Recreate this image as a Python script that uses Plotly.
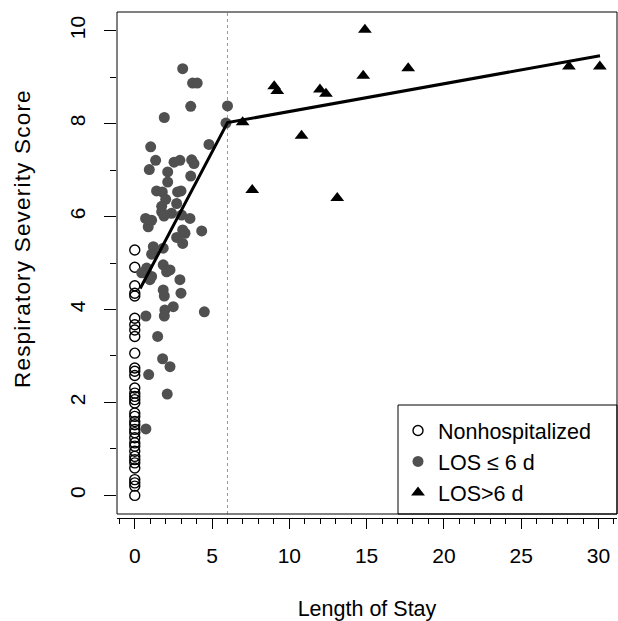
#!/usr/bin/env python3
"""Respiratory severity score vs length of stay (piecewise fit)."""

from __future__ import annotations

import plotly.graph_objects as go


# --- data ------------------------------------------------------------------
NONHOSP_Y = [
    5.28, 4.91, 4.51, 4.35, 4.29, 3.81, 3.67, 3.56, 3.42, 3.06, 2.74, 2.67,
    2.58, 2.31, 2.20, 2.13, 2.06, 1.99, 1.77, 1.70, 1.59, 1.52, 1.42, 1.35,
    1.24, 1.13, 1.06, 0.95, 0.84, 0.77, 0.70, 0.59, 0.34, 0.27, 0.20, 0.00,
]
NONHOSP_X = [0.0] * len(NONHOSP_Y)

LOS_SHORT_X = [
    3.10, 3.74, 4.04, 3.62, 6.00, 1.91, 5.90, 4.80, 1.03, 1.35, 0.94, 2.54,
    2.92, 3.68, 3.83, 2.13, 3.62, 2.13, 1.41, 1.78, 2.77, 2.99, 2.00, 2.71,
    1.74, 1.74, 2.38, 1.89, 3.03, 3.57, 0.70, 1.09, 0.87, 3.10, 3.25, 4.33,
    2.71, 3.10, 1.20, 1.84, 1.20, 1.09, 0.77, 0.45, 1.09, 0.98, 1.84, 2.06,
    2.28, 2.92, 1.84, 1.91, 2.99, 2.49, 1.95, 1.91, 0.72, 4.50, 1.48, 1.80,
    2.28, 0.90, 2.10, 0.72,
]
LOS_SHORT_Y = [
    9.18, 8.87, 8.87, 8.37, 8.38, 8.13, 8.01, 7.55, 7.50, 7.21, 7.01, 7.17,
    7.21, 7.22, 7.14, 6.96, 6.87, 6.74, 6.55, 6.53, 6.53, 6.55, 6.37, 6.28,
    6.22, 6.10, 6.07, 6.01, 6.03, 5.96, 5.96, 5.92, 5.78, 5.71, 5.64, 5.69,
    5.55, 5.42, 5.35, 5.32, 5.21, 5.19, 4.89, 4.79, 4.71, 4.64, 4.96, 4.81,
    4.85, 4.64, 4.42, 4.29, 4.35, 4.06, 3.99, 3.86, 3.86, 3.95, 3.42, 2.94,
    2.77, 2.60, 2.18, 1.43,
]

LOS_LONG_X = [14.89, 17.69, 14.78, 9.02, 9.22, 11.98, 12.37, 28.09, 30.09, 6.98, 10.79, 7.60, 13.10]
LOS_LONG_Y = [10.02, 9.19, 9.03, 8.80, 8.70, 8.73, 8.64, 9.23, 9.23, 8.03, 7.74, 6.57, 6.40]

FIT_X = [0.35, 6.0, 30.1]
FIT_Y = [4.45, 8.02, 9.46]

THRESHOLD_DAYS = 6

X_TICKS = [0, 5, 10, 15, 20, 25, 30]
Y_TICKS = [0, 2, 4, 6, 8, 10]

# --- layout constants --------------------------------------------------------
W, H = 618, 621
ML, MR, MT, MB = 115, 1, 12, 103
PW, PH = W - ML - MR, H - MT - MB
X0 = 2 / PW          # box left (y axis sits on it)
Y0 = 4 / PH          # box bottom (x axis sits 4px below)
FONT = "Liberation Sans, Arial, Helvetica, sans-serif"
GREY = "#505050"


def main() -> int:
    fig = go.Figure()

    fig.add_trace(
        go.Scatter(
            x=NONHOSP_X,
            y=NONHOSP_Y,
            mode="markers",
            name="Nonhospitalized",
            marker=dict(symbol="circle-open", size=10, color="black", line=dict(width=1.4)),
        )
    )
    fig.add_trace(
        go.Scatter(
            x=LOS_SHORT_X,
            y=LOS_SHORT_Y,
            mode="markers",
            name="LOS \u2264 6 d",
            marker=dict(symbol="circle", size=11, color=GREY, line=dict(width=0)),
        )
    )
    fig.add_trace(
        go.Scatter(
            x=LOS_LONG_X,
            y=LOS_LONG_Y,
            mode="markers",
            name="LOS>6 d",
            marker=dict(symbol="triangle-up", size=12, color="black", line=dict(width=0)),
        )
    )
    fig.add_trace(
        go.Scatter(
            x=FIT_X,
            y=FIT_Y,
            mode="lines",
            line=dict(color="black", width=3),
            showlegend=False,
            hoverinfo="skip",
        )
    )

    fig.add_vline(x=THRESHOLD_DAYS, line=dict(color="#999999", width=1, dash="dot"), layer="below")

    # plot box + legend box
    fig.add_shape(type="rect", xref="paper", yref="paper", x0=X0, x1=1, y0=Y0, y1=1,
                  line=dict(color="black", width=1))
    leg_x = (398 - ML) / PW
    fig.add_shape(type="rect", xref="paper", yref="paper", x0=leg_x, x1=1, y0=Y0,
                  y1=(H - MB - 405) / PH, line=dict(color="black", width=1),
                  fillcolor="white", layer="below")

    # y title: placed by hand, a bit spaced out like the original device font
    fig.add_annotation(
        text='<span style="letter-spacing:1.2px">Respiratory Severity Score</span>',
        xref="paper", yref="paper",
        x=(23 - ML) / PW, y=(H - MB - 239) / PH,
        xanchor="center", yanchor="middle",
        textangle=-90, showarrow=False,
        font=dict(size=22.5),
    )

    fig.update_layout(
        width=W,
        height=H,
        margin=dict(l=ML, r=MR, t=MT, b=MB),
        plot_bgcolor="white",
        paper_bgcolor="white",
        font=dict(family=FONT, size=21, color="black"),
        showlegend=True,
        legend=dict(
            x=leg_x,
            y=(H - MB - 410) / PH,
            xanchor="left",
            yanchor="top",
            bgcolor="rgba(0,0,0,0)",
            borderwidth=0,
            font=dict(size=21.5),
            tracegroupgap=0,
            itemwidth=30,
        ),
    )
    fig.update_xaxes(
        domain=[X0, 1],
        anchor="free",
        position=0,
        range=[-1.15, 31.2],
        tickvals=X_TICKS,
        ticks="outside",
        ticklen=10,
        tickwidth=1,
        tickcolor="black",
        minor=dict(dtick=1, tick0=0, ticks="outside", ticklen=5, tickwidth=1, tickcolor="black"),
        showline=True,
        linecolor="black",
        linewidth=1,
        showgrid=False,
        zeroline=False,
        ticklabelstandoff=9,
        title=dict(text="Length of Stay", font=dict(size=21.5), standoff=36),
        automargin=False,
    )
    fig.update_yaxes(
        domain=[Y0, 1],
        range=[-0.4, 10.4],
        tickvals=Y_TICKS,
        tickangle=-90,
        ticks="outside",
        ticklen=12,
        tickwidth=1,
        tickcolor="black",
        minor=dict(dtick=1, tick0=0, ticks="outside", ticklen=6, tickwidth=1, tickcolor="black"),
        showline=False,
        showgrid=False,
        zeroline=False,
        ticklabelstandoff=11,
        automargin=False,
    )

    # drop the default page margin so the figure sits at the window origin
    fig.write_html(
        "out.html",
        config={"displayModeBar": False},
        post_script="document.body.style.margin='0';",
    )
    return 0


if __name__ == "__main__":
    raise SystemExit(main())
